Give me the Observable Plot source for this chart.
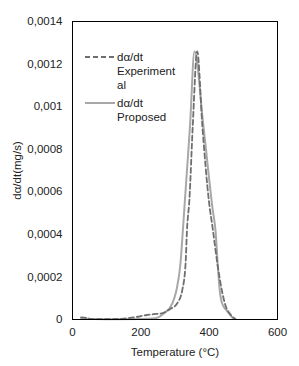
<!DOCTYPE html>
<html>
<head>
<meta charset="utf-8">
<script src="https://cdn.jsdelivr.net/npm/d3@7"></script>
<script src="https://cdn.jsdelivr.net/npm/@observablehq/plot@0.6"></script>
<style>
  html, body { margin: 0; padding: 0; background: #fff; }
  #chart { width: 299px; height: 366px; }
  svg { font-family: "Liberation Sans", Arial, sans-serif; }
</style>
</head>
<body>
<div id="chart"></div>
<script>
// Series names
const seriesNames = ["dα/dt Experimental", "dα/dt Proposed"];

// Experimental dα/dt (dashed) — temperature (°C) and value (mg/s)
const expT = [25, 40, 60, 120, 180, 214, 237, 258, 287, 306, 321, 331, 335, 342, 352, 365, 380, 399, 411, 424, 438, 448, 462, 477];
const expV = [0.00001, 0.000007, 0.000002, 0.000002, 0.00001, 0.00002, 0.000025, 0.000028, 0.00005, 0.000075, 0.000136, 0.000263, 0.000418, 0.000559, 0.000911, 0.00126, 0.000911, 0.00056, 0.00042, 0.000263, 0.00013, 0.000065, 0.000025, 0.000002];

// Proposed dα/dt (solid)
const propT = [25, 60, 120, 200, 243, 267, 292, 304, 316, 323, 329, 344, 357, 383, 410, 419, 425, 431, 438, 453, 471];
const propV = [0.000003, 0.000002, 0.000001, 0.000002, 0.000006, 0.000028, 0.000075, 0.000136, 0.000263, 0.000418, 0.00056, 0.000911, 0.00126, 0.000911, 0.00052, 0.00041, 0.00026, 0.000136, 0.000075, 0.000038, 0.000003];

// Axis ticks
const xTicks = [0, 200, 400, 600];
const yTicks = [0, 0.0002, 0.0004, 0.0006, 0.0008, 0.001, 0.0012, 0.0014];

const expData = expT.map((t, i) => ({T: t, v: expV[i]}));
const propData = propT.map((t, i) => ({T: t, v: propV[i]}));

const fmtY = d => d === 0 ? "0" : String(+d.toFixed(4)).replace(".", ",");

const textColor = "#222";
const expColor = "#6e6e6e";
const propColor = "#a8a8a8";

const chart = Plot.plot({
  width: 299,
  height: 366,
  marginLeft: 72,
  marginRight: 22,
  marginTop: 21,
  marginBottom: 47,
  style: {fontFamily: '"Liberation Sans", Arial, sans-serif', fontSize: "11.5px", color: textColor, background: "#fff"},
  x: {domain: [0, 600], ticks: xTicks, tickSize: 0, tickPadding: 8, label: "Temperature (°C)", labelAnchor: "center", labelOffset: 36, labelArrow: "none"},
  y: {domain: [0, 0.0014], ticks: yTicks, tickSize: 0, tickPadding: 10, tickFormat: fmtY, label: "dα/dt(mg/s)", labelAnchor: "center", labelOffset: 60, labelArrow: "none"},
  marks: [
    Plot.line(propData, {x: "T", y: "v", stroke: propColor, strokeWidth: 2, curve: "monotone-x"}),
    Plot.line(expData, {x: "T", y: "v", stroke: expColor, strokeWidth: 1.8, strokeDasharray: "5,3", curve: "monotone-x"}),
    Plot.frame({stroke: "#000", strokeWidth: 1})
  ]
});
document.getElementById("chart").appendChild(chart);

// Legend overlay inside plot area
const svg = d3.select(chart);
const lg = svg.append("g")
  .attr("font-family", '"Liberation Sans", Arial, sans-serif')
  .attr("font-size", "11.5px")
  .attr("fill", textColor)
  .attr("text-anchor", "start");
const entries = [
  {lines: ["dα/dt", "Experiment", "al"], y: 57, stroke: expColor, dash: "5,3", w: 1.8},
  {lines: ["dα/dt", "Proposed"], y: 103, stroke: propColor, dash: null, w: 2}
];
entries.forEach(e => {
  const ln = lg.append("line").attr("x1", 85).attr("x2", 115).attr("y1", e.y).attr("y2", e.y)
    .attr("stroke", e.stroke).attr("stroke-width", e.w);
  if (e.dash) ln.attr("stroke-dasharray", e.dash);
  e.lines.forEach((t, i) => {
    lg.append("text").attr("x", 117).attr("y", e.y + i * 14).attr("dy", "0.35em")
      .attr("text-anchor", "start").text(t);
  });
});
</script>
</body>
</html>
